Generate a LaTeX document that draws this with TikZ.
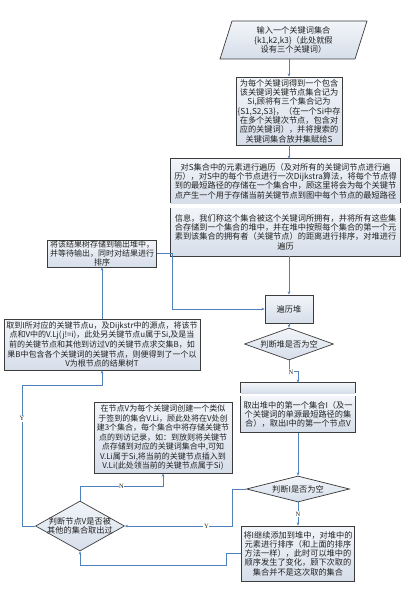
\documentclass[tikz,border=0pt]{standalone}
\usepackage{fontspec}
\setmainfont{Noto Sans CJK SC}
\newfontfamily\lbfont{Liberation Serif}
\usetikzlibrary{shapes.geometric,arrows.meta}
\definecolor{bd}{HTML}{3C3C3C}
\definecolor{ar}{HTML}{4F81BD}
\definecolor{ft}{HTML}{F2F5F9}
\definecolor{fb}{HTML}{D6DEEA}
\definecolor{tx}{HTML}{222222}
\begin{document}
\begin{tikzpicture}[x=1pt,y=-1pt,
  txt/.style={font=\fontsize{8.2}{9.3}\selectfont, text=tx, align=center, inner sep=0pt},
  box/.style={txt, draw=bd, line width=0.7pt, top color=ft, bottom color=fb},
  fillbox/.style={txt, top color=ft, bottom color=fb},
  border/.style={draw=bd, line width=0.7pt},
  dia/.style={shape=diamond, draw=bd, line width=0.7pt, top color=ft, bottom color=fb, inner sep=0pt},
  conn/.style={draw=ar, line width=0.6pt, -{Stealth[length=3.2pt,width=2.6pt]}},
  yn/.style={font=\lbfont\fontsize{6.5}{7}\selectfont, fill=white, inner sep=0.6pt, text=tx},
  lbl/.style={txt}
]
\useasboundingbox (0,0) rectangle (415,594);
\fill[white] (0,0) rectangle (415,594);

% input parallelogram
\path[draw=bd, line width=0.7pt, top color=ft, bottom color=fb] (232,21) -- (367,21) -- (355,59) -- (220,59) -- cycle;
\node[txt] (in) at (293.5,40) {输入一个关键词集合\\\{k1,k2,k3\}（此处就假\\设有三个关键词）};
\coordinate (inb) at (289,59);

\node[box, minimum width=106pt, minimum height=68pt] (b2) at (289,111)
 {为每个关键词得到一个包含\\该关键词关键节点集合记为\\Si,顾将有三个集合记为\\\{S1,S2,S3\}，（在一个Si中存\\在多个关键次节点，包含对\\应的关键词），并将搜索的\\关键词集合放并集赋给S};

\node[fillbox, minimum width=229pt, minimum height=44pt] (b3a) at (285.5,181)
 {对S集合中的元素进行遍历（及对所有的关键词节点进行遍\\历），对S中的每个节点进行一次Dijkstra算法，将每个节点得\\到的最短路径的存储在一个集合中，顾这里将会为每个关键节\\点产生一个用于存储当前关键节点到图中每个节点的最短路径};
\draw[border] (b3a.south west) -- (b3a.north west) -- (b3a.north east) -- (b3a.south east);
\node[fillbox, minimum width=229pt, minimum height=48pt] (b3b) at (285.5,232)
 {信息，我们称这个集合被这个关键词所拥有，并将所有这些集\\合存储到一个集合的堆中，并在堆中按照每个集合的第一个元\\素到该集合的拥有者（关键节点）的距离进行排序，对堆进行\\遍历};
\draw[border] (b3b.north west) -- (b3b.south west) -- (b3b.south east) -- (b3b.north east);

\node[box, minimum width=48pt, minimum height=28pt] (heap) at (289,309) {遍历堆};
\node[dia, minimum width=89pt, minimum height=32pt, label={[lbl]center:{判断堆是否为空}}] (d1) at (289,344) {};

\node[box, minimum width=109pt, minimum height=27pt, font=\fontsize{8}{9}\selectfont] (b4) at (102,253.5)
 {将该结果树存储到输出堆中，\\并等待输出，同时对结果进行\\排序};

\node[box, minimum width=196pt, minimum height=51pt, font=\fontsize{8}{9.6}\selectfont] (b5) at (102,344.5)
 {取到I所对应的关键节点u，及Dijkstr中的源点，将该节\\点和V中的V.Lj(j!=i)，此处另关键节点u属于Si,及是当\\前的关键节点和其他到访过V的关键节点求交集B，如\\果B中包含各个关键词的关键节点，则便得到了一个以\\V为根节点的结果树T};

\node[fillbox, minimum width=114pt, minimum height=10pt] (b7a) at (298,388) {};
\draw[border] (b7a.south west) -- (b7a.north west) -- (b7a.north east) -- (b7a.south east);
\node[fillbox, minimum width=114pt, minimum height=36pt] (b7b) at (298,414.5)
 {取出堆中的第一个集合I（及一\\个关键词的单源最短路径的集\\合），取出I中的第一个节点V};
\draw[border] (b7b.north west) -- (b7b.south west) -- (b7b.south east) -- (b7b.north east);

\node[box, minimum width=138pt, minimum height=71pt, font=\fontsize{8}{9.5}\selectfont] (b11) at (163,437.5)
 {在节点V为每个关键词创建一个类似\\于签到的集合V.Li，顾此处将在V处创\\建3个集合，每个集合中将存储关键节\\点的到访记录，如：到放则将关键节\\点存储到对应的关键词集合中,可知\\V.Li属于Si,将当前的关键节点插入到\\V.Li(此处领当前的关键节点属于Si)};

\node[dia, minimum width=103pt, minimum height=26pt, label={[lbl]center:{判断I是否为空}}] (d2) at (298,489) {};

\node[box, minimum width=113pt, minimum height=55pt] (b9) at (298,553.5)
 {将I继续添加到堆中，对堆中的\\元素进行排序（和上面的排序\\方法一样），此时可以堆中的\\顺序发生了变化，顾下次取的\\集合并不是这次取的集合};

\node[dia, minimum width=89pt, minimum height=50pt, label={[lbl]center:{判断节点V是否被\\其他的集合取出过}}] (d3) at (80,526) {};

% connectors
\draw[conn] (inb) -- (b2.north);
\draw[conn] (b2.south) -- (b2.south |- b3a.north);
\draw[conn] (heap.north |- b3b.south) -- (heap.north);
\draw[conn] (b4.east) -- ++(15,0) |- (heap.west);
\draw[conn] (heap.south) -- (d1.north);
\draw[conn] (d1.south) -- ++(0,11) -| (b7a.north);
\node[yn] (n1) at (291,372) {N};
\draw[conn] (b7b.south) -- (d2.north);
\draw[conn] (d2.west) -- ++(-14,0) |- node[yn,pos=0.62] (y1) {Y} (d3.east);
\draw[conn] (d2.south) -- node[yn] (n2) {N} (b9.north);
\draw[conn] (b9.west) -- ++(-15,0) -- ++(0,12) -| (d3.south);
\draw[conn] (d3.north) -- ++(0,-14) -| node[yn,pos=0.25] (n3) {N} (b11.south);
\coordinate (yc) at (22,385);
\draw[conn] (d3.west) -| node[yn,pos=0.88] (y2) {Y} (yc) -| (b5.south);
\draw[conn] (b5.north) -- (b4.south);
\end{tikzpicture}
\end{document}
